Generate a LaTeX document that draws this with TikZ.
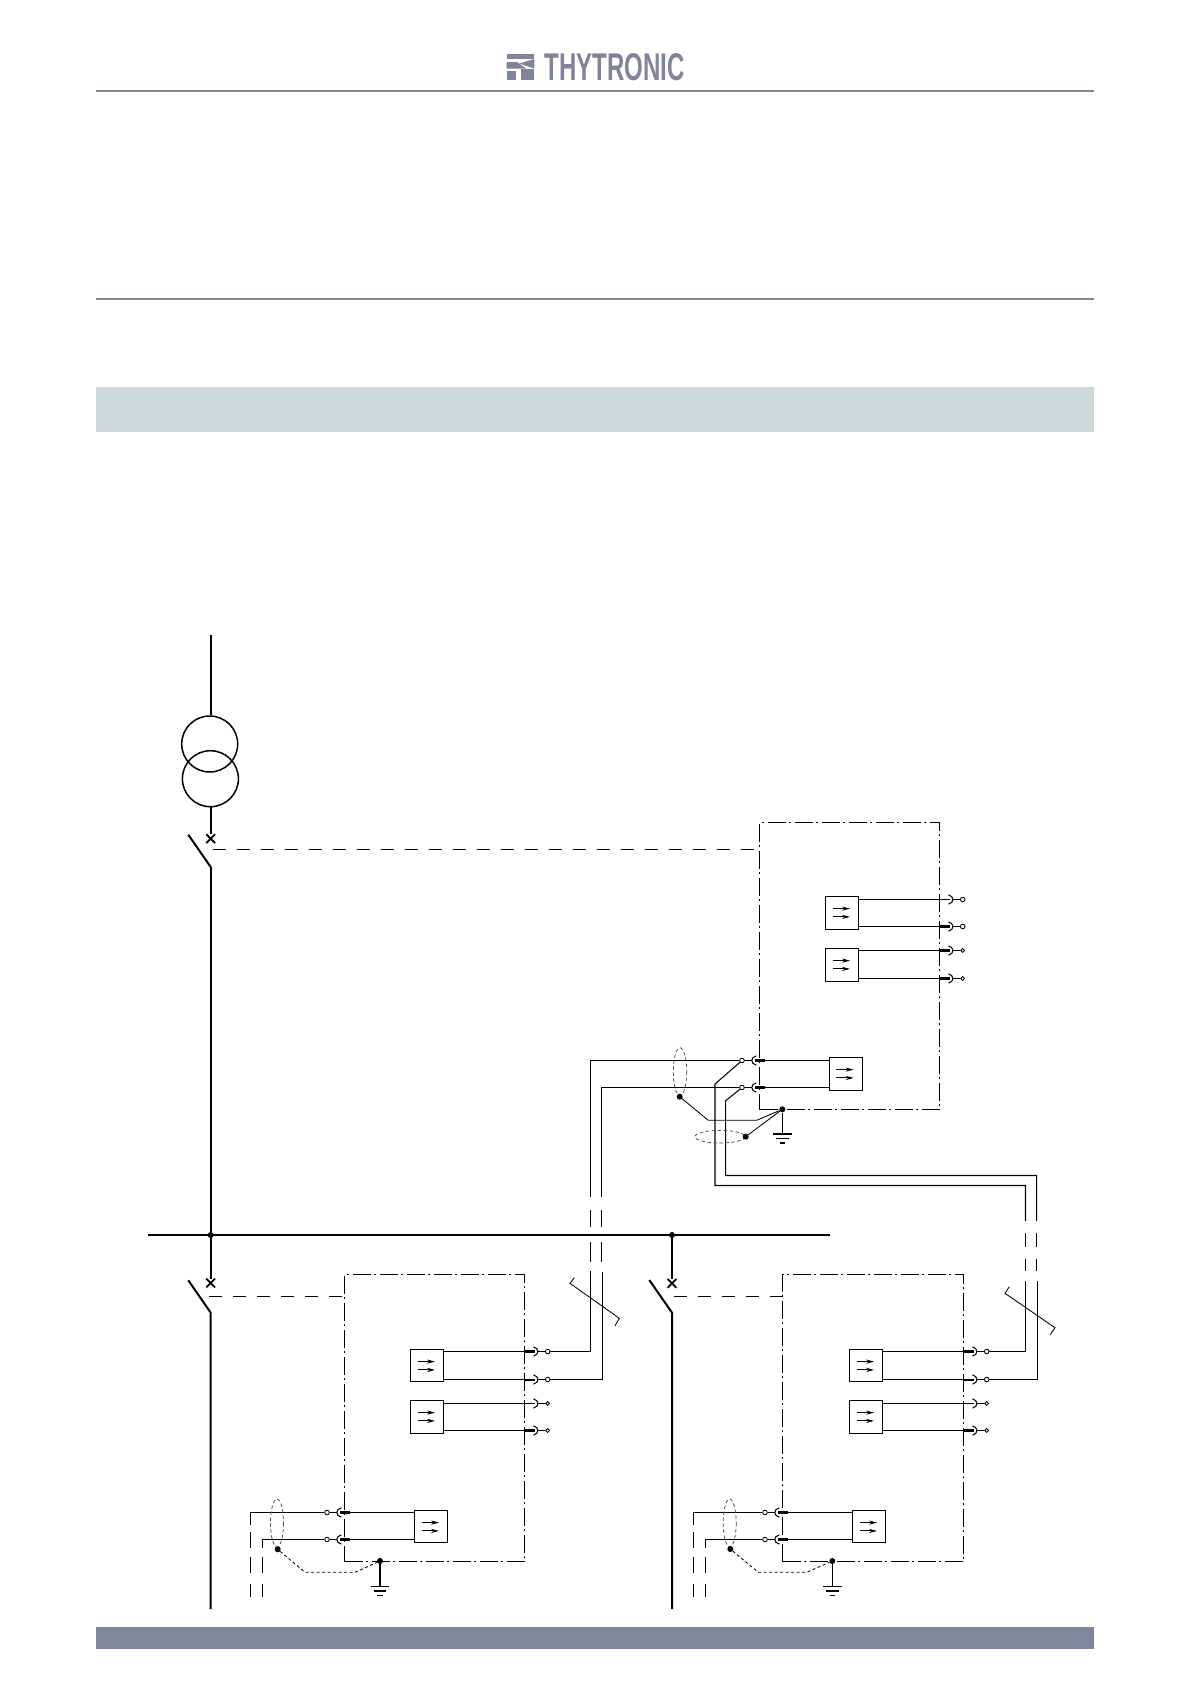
\documentclass[tikz,border=0pt]{standalone}
\usepackage{fontspec}
\setsansfont{Liberation Sans}
\usetikzlibrary{shapes.misc,arrows.meta}
\definecolor{rulegray}{HTML}{82869A}
\definecolor{bandgreen}{HTML}{CDD9D8}
\definecolor{footgray}{HTML}{7D869B}
\definecolor{logogray}{HTML}{7F8599}
\tikzset{
  mainline/.style={line width=2pt},
  wire/.style={line width=1.05pt},
  thinwire/.style={line width=0.85pt},
  linkdash/.style={line width=1pt,dash pattern=on 13pt off 11pt},
  framebox/.style={draw,rectangle,line width=1pt,inner sep=0pt,anchor=north west,
     dash pattern=on 18pt off 3.5pt on 2pt off 3.5pt},
  opticbox/.style={draw,rectangle,line width=1pt,inner sep=0pt,anchor=north west,
     fill=white,minimum width=32.5pt},
  term/.style={draw,circle,fill=white,line width=0.85pt,inner sep=0pt},
  blob/.style={fill,circle,inner sep=0pt,minimum size=#1},
  screen/.style={draw=black!70,line width=0.75pt,dash pattern=on 3.5pt off 2.5pt},
  xmark/.style={draw,cross out,line width=1.8pt,inner sep=0pt,minimum size=7pt},
  earthdash/.style={line width=0.85pt,dash pattern=on 3pt off 2.5pt},
}
% optic box: name, left, top, height
\newcommand{\opticunit}[4]{%
  \node[opticbox,minimum height=#4pt] (#1) at (#2,#3) {};
  \draw[thinwire,-{Stealth[length=8pt,width=4.2pt]}] ([shift={(7.3,12.3)}]#1.north west) -- ++(17.4,0);
  \draw[thinwire,-{Stealth[length=8pt,width=4.2pt]}] ([shift={(7.3,20.6)}]#1.north west) -- ++(17.4,0);
}
% right-facing port: name, frame x, y, stub width, terminal diameter, box
\newcommand{\portright}[6]{%
  \node[term,minimum size=#5pt] (#1) at (#2+23.4,#3) {};
  \draw[wire] (#6.east |- #1) -- (#2,#3);
  \draw[line width=#4pt] (#2,#3) -- (#2+10.5,#3);
  \draw[wire] (#2+9.2,#3-4.6) .. controls (#2+15,#3-3.4) and (#2+15,#3+3.4) .. (#2+9.2,#3+4.6);
  \draw[wire] (#2+13.5,#3) -- (#1);
}
% left-facing port: name, frame x, y, box
\newcommand{\portleft}[4]{%
  \node[term,minimum size=4.6pt] (#1) at (#2-17.3,#3) {};
  \draw[wire] (#4.west |- #1) -- (#2,#3);
  \draw[line width=3pt] (#2-4.3,#3) -- (#2+6,#3);
  \draw[wire] (#2-3,#3-4.6) .. controls (#2-9,#3-3.4) and (#2-9,#3+3.4) .. (#2-3,#3+4.6);
  \draw[wire] (#2-7.5,#3) -- (#1);
}
% earth: name of dot, x, y of dot, y of first bar
\newcommand{\earth}[4]{%
  \node[blob=6pt] (#1) at (#2,#3) {};
  \coordinate (#1g) at (#2,#4);
  \draw[wire] (#1) -- (#1g);
  \draw[wire] ([xshift=-9.3pt]#1g) -- ([xshift=9.3pt]#1g);
  \draw[line width=1.5pt] ([shift={(-6.2,4.3)}]#1g) -- ([shift={(6.2,4.3)}]#1g);
  \draw[wire] ([shift={(-2.6,9)}]#1g) -- ([shift={(2.6,9)}]#1g);
}
\begin{document}
\begin{tikzpicture}[x=1pt,y=-1pt]
\useasboundingbox (0,0) rectangle (1191,1684);
\fill[white] (0,0) rectangle (1191,1684);

% page furniture
\fill[rulegray] (96,90) rectangle (1094,92);
\fill[rulegray] (96,298) rectangle (1094,300);
\fill[bandgreen] (96,387) rectangle (1094,432);
\fill[footgray] (96,1627) rectangle (1094,1649);

% logo
\fill[logogray] (506.7,53.5) -- (534.3,53.5) -- (534.3,59) -- (506.7,59) -- cycle;
\fill[logogray] (534.3,59) -- (534.3,68.5) -- (519,63.5) -- cycle;
\fill[logogray] (506.7,62) -- (517,62) -- (526,68.5) -- (506.7,68.5) -- cycle;
\fill[logogray] (506.7,70.5) rectangle (516,80);
\fill[logogray] (520.5,68.5) -- (534.3,68.5) -- (534.3,80) -- (520.5,80) -- cycle;
\node[inner sep=0pt,anchor=west,text=logogray] (logo) at (544.5,67)
   {\resizebox{140pt}{27pt}{\sffamily\bfseries THYTRONIC}};

% frames
\node[framebox,minimum width=180pt,minimum height=287pt] (fT) at (759.3,822.3) {};
\node[framebox,minimum width=180pt,minimum height=287pt] (fA) at (344.3,1274) {};
\node[framebox,minimum width=181pt,minimum height=287pt] (fB) at (782.3,1274) {};

% transformer and incoming feeder
\coordinate (feed) at (210.7,635);
\node[draw,circle,line width=1.5pt,minimum size=56pt,inner sep=0pt] (tr1) at (209.7,744) {};
\node[draw,circle,line width=1.5pt,minimum size=56pt,inner sep=0pt] (tr2) at (210.4,778.7) {};
\node[xmark] (xT) at (210.7,838.7) {};
\coordinate (bT) at (210.7,867);
\coordinate (tipT) at (188.3,834.7);
\draw[mainline] (feed) -- (tr1.north -| feed);
\draw[mainline] (tr2.south -| feed) -- (xT);
\draw[mainline] (tipT) -- (bT);
\coordinate (lkT) at (213,849.3);
\draw[linkdash] (lkT) -- (fT.west |- lkT);

% bus
\coordinate (busL) at (147.7,1235);
\coordinate (busR) at (830,1235);
\draw[mainline] (busL) -- (busR);
\node[blob=6pt] (dA) at (210.7,1235) {};
\node[blob=6pt] (dB) at (672,1235) {};
\draw[mainline] (bT) -- (dA);

% bay A breaker
\node[xmark] (xA) at (210.7,1283) {};
\coordinate (bA) at (210.7,1312.7);
\coordinate (tipA) at (188.3,1280.3);
\coordinate (endA) at (210.7,1609);
\draw[mainline] (dA) -- (xA);
\draw[mainline] (tipA) -- (bA) -- (endA);
\coordinate (lkA) at (209,1296.5);
\draw[linkdash] (lkA) -- (fA.west |- lkA);

% bay B breaker
\node[xmark] (xB) at (672,1283.3) {};
\coordinate (bB) at (672,1312.7);
\coordinate (tipB) at (649.3,1280);
\coordinate (endB) at (672,1609);
\draw[mainline] (dB) -- (xB);
\draw[mainline] (tipB) -- (bB) -- (endB);
\coordinate (lkB) at (674,1296.7);
\draw[linkdash] (lkB) -- (fB.west |- lkB);

% top relay outputs
\opticunit{oT1}{825.3}{896.3}{33}
\opticunit{oT2}{825.3}{948.3}{33}
\portright{pT1}{939.3}{899.5}{1.8}{4.6}{oT1}
\portright{pT2}{939.3}{926.5}{3}{4.6}{oT1}
\portright{pT3}{939.3}{950.5}{3}{3.8}{oT2}
\portright{pT4}{939.3}{978.5}{3}{3.8}{oT2}

% top relay input
\opticunit{oT3}{829}{1057.3}{33}
\portleft{qT1}{759.3}{1060.5}{oT3}
\portleft{qT2}{759.3}{1087.5}{oT3}

% bay A outputs
\opticunit{oA1}{410.3}{1349.3}{32}
\opticunit{oA2}{410.3}{1400.3}{33}
\portright{pA1}{524.3}{1351.5}{3}{4.6}{oA1}
\portright{pA2}{524.3}{1379.5}{2}{4.6}{oA1}
\portright{pA3}{524.3}{1403.5}{1.8}{3.8}{oA2}
\portright{pA4}{524.3}{1430.5}{3}{3.8}{oA2}

% bay B outputs
\opticunit{oB1}{849.3}{1349.3}{32}
\opticunit{oB2}{849.3}{1400.3}{33}
\portright{pB1}{963.3}{1351.5}{3.2}{4.6}{oB1}
\portright{pB2}{963.3}{1379.5}{2}{4.6}{oB1}
\portright{pB3}{963.3}{1403.5}{1.8}{3.8}{oB2}
\portright{pB4}{963.3}{1430.5}{3.2}{3.8}{oB2}

% bay A input
\opticunit{oA3}{414.3}{1510.3}{32}
\portleft{qA1}{344.3}{1512.5}{oA3}
\portleft{qA2}{344.3}{1539.5}{oA3}

% bay B input
\opticunit{oB3}{852.3}{1510.3}{32}
\portleft{qB1}{782.3}{1512.5}{oB3}
\portleft{qB2}{782.3}{1539.5}{oB3}

% fibre runs A to top
\coordinate (cA1) at (590.5,1060.5);
\coordinate (cA2) at (601.7,1087.5);
\draw[wire] (qT1) -- (cA1) -- (590.5,1196.7);
\draw[wire] (qT2) -- (cA2) -- (601.7,1196.7);
\foreach \wx in {590.5,601.7}{
  \draw[wire] (\wx,1210) -- (\wx,1227);
  \draw[wire] (\wx,1242) -- (\wx,1261.7);
}
\draw[wire] (590.5,1271) |- (pA1);
\draw[wire] (602.3,1272) |- (pA2);

% fibre runs top to B
\coordinate (kB1) at (715,1084);
\coordinate (kB2) at (725.7,1100.7);
\draw[wire] (qT1) -- (kB1) -- (715,1185.5) -- (1025.5,1185.5) -- (1025.5,1221);
\draw[wire] (qT2) -- (kB2) -- (725.7,1175.5) -- (1036.7,1175.5) -- (1036.7,1221);
\foreach \wx in {1025.5,1036.7}{
  \draw[wire] (\wx,1232.7) -- (\wx,1246.7);
  \draw[wire] (\wx,1258.7) -- (\wx,1270.7);
}
\draw[wire] (1025.5,1280.7) |- (pB1);
\draw[wire] (1037.3,1280.7) |- (pB2);

% bundle ticks
\draw[thinwire] (574.3,1277.7) -- (570,1283.3) -- (619.3,1318.3) -- (615,1325.7);
\draw[thinwire] (1009.3,1286.7) -- (1005,1293.3) -- (1055,1327.7) -- (1050,1335);

% top relay screens and earth
\draw[screen] (680,1071.7) ellipse (6.7 and 24);
\draw[screen] (720,1136.7) ellipse (25 and 6.3);
\earth{eT}{782.3}{1109.3}{1134}
\node[blob=6pt] (sT1) at (679.7,1096.7) {};
\node[blob=6pt] (sT2) at (745.7,1136.7) {};
\draw[thinwire] (sT1) -- (708.3,1120.3) -- (756.7,1120.3) -- (eT);
\draw[thinwire] (sT2) -- (eT);

% bay A lower wires
\draw[wire] (qA1) -| (250.5,1525);
\draw[wire] (qA2) -| (262.5,1548);
\draw[wire] (250.5,1532) -- (250.5,1548);
\foreach \wx in {250.5,262.5}{
  \draw[wire] (\wx,1557) -- (\wx,1573);
  \draw[wire] (\wx,1584) -- (\wx,1597);
}
\draw[screen] (277,1523) ellipse (6.5 and 24);
\earth{eA}{380}{1561}{1586.7}
\node[blob=6pt] (sA) at (277.7,1549.3) {};
\draw[earthdash] (sA) -- (305,1572.3) -- (355,1572.3) -- (eA);

% bay B lower wires
\draw[wire] (qB1) -| (693.5,1525);
\draw[wire] (qB2) -| (705.5,1548);
\draw[wire] (693.5,1532) -- (693.5,1548);
\foreach \wx in {693.5,705.5}{
  \draw[wire] (\wx,1557) -- (\wx,1573);
  \draw[wire] (\wx,1584) -- (\wx,1597);
}
\draw[screen] (729.7,1523) ellipse (6.5 and 24);
\earth{eB}{832.3}{1561}{1586.7}
\node[blob=6pt] (sB) at (730.3,1549) {};
\draw[earthdash] (sB) -- (758.3,1572.3) -- (806.7,1572.3) -- (eB);
\end{tikzpicture}
\end{document}
